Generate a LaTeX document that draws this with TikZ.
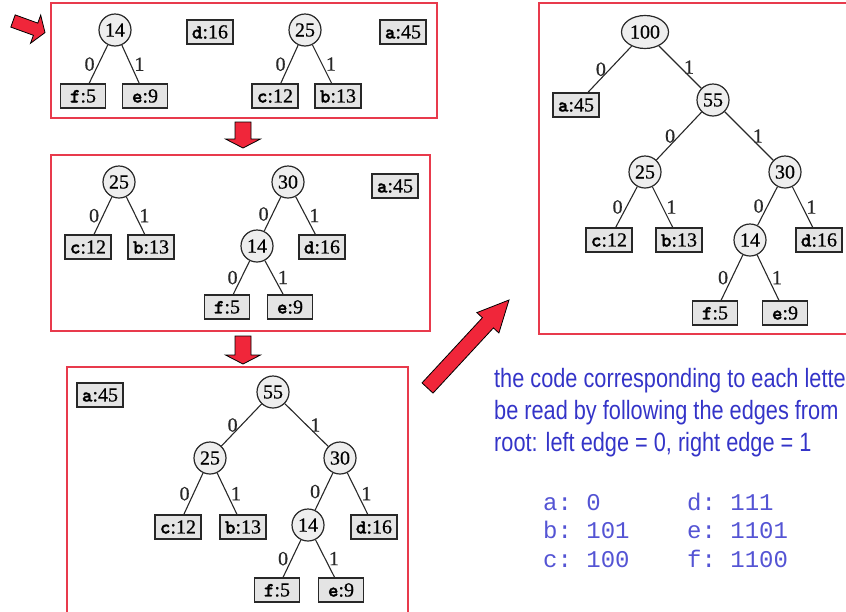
\documentclass[tikz,border=0pt]{standalone}
\usepackage{fontspec}
\setmainfont{Liberation Serif}
\newfontfamily\treeserif[FakeBold=0.6]{Liberation Serif}
\newfontfamily\notefont[FakeStretch=0.82]{Liberation Sans}
\newfontfamily\codefont{Liberation Mono}
\newfontfamily\letterfont[FakeBold=1.6]{lmmonolt10-bold.otf}
\usetikzlibrary{shapes.geometric}

\definecolor{framered}{RGB}{232,58,76}
\definecolor{arrowred}{RGB}{240,38,58}
\definecolor{noteblue}{RGB}{52,52,200}
\definecolor{codeblue}{RGB}{84,84,212}
\definecolor{nodefill}{RGB}{238,238,238}
\definecolor{leaffill}{RGB}{228,228,228}
\definecolor{inkgray}{RGB}{40,40,40}

% leaf label: bold typewriter letter, then its frequency
\newcommand\leaftxt[2]{{\letterfont #1}:#2}

\tikzset{
  treefont/.style={font=\treeserif\fontsize{20}{22}\selectfont},
  inner/.style={circle, draw=inkgray, fill=nodefill, line width=1.2pt,
    minimum size=32pt, inner sep=0pt, treefont},
  rootoval/.style={ellipse, draw=inkgray, fill=nodefill, line width=1.2pt,
    minimum width=47pt, minimum height=33pt, inner sep=0pt, treefont},
  leaf/.style={rectangle, draw=inkgray, fill=leaffill, line width=1.4pt,
    minimum width=45pt, minimum height=24pt, inner xsep=5pt, inner ysep=0pt, treefont},
  link/.style={draw=inkgray, line width=1.1pt},
  bit0/.style={midway, left, treefont, text=inkgray},
  bit1/.style={midway, right, treefont, text=inkgray},
  redframe/.style={draw=framered, line width=1.2pt},
  bigarrow/.style={fill=arrowred, draw=black, line width=0.8pt, line join=miter},
  note/.style={anchor=base west, text=noteblue, inner sep=0pt,
    font=\notefont\fontsize{26.5}{32}\selectfont},
  codeline/.style={anchor=base west, text=codeblue, inner sep=0pt,
    font=\codefont\fontsize{24}{28}\selectfont},
}

\begin{document}
\begin{tikzpicture}[x=1pt, y=-1pt]
\useasboundingbox (0,0) rectangle (846,611);
\clip (0,0) rectangle (846,611);

% ---------- frames ----------
\draw[redframe] (51,3) rectangle (437,118);
\draw[redframe] (51,155) rectangle (430,331);
\draw[redframe] (67,620) -- (67,367) -- (408,367) -- (408,620);
\draw[redframe] (852,3) -- (539,3) -- (539,334) -- (852,334);

% ---------- block arrows ----------
\draw[bigarrow] (15.2,14.9) -- (37.8,23.1) -- (40.7,15.1) -- (45,32.6)
  -- (30.5,43.3) -- (33.4,35.3) -- (10.8,27.1) -- cycle;
\draw[bigarrow] (235,122) -- (251,122) -- (251,139) -- (260.5,139)
  -- (243,148) -- (225.5,139) -- (235,139) -- cycle;
\draw[bigarrow] (235,336) -- (251,336) -- (251,355) -- (260.5,355)
  -- (243,364) -- (225.5,355) -- (235,355) -- cycle;
\draw[bigarrow] (422,382.9) -- (482.4,317.7) -- (476.9,312.6) -- (509,300)
  -- (498.9,333) -- (493.4,327.9) -- (433,393.1) -- cycle;

% ---------- step 1: forest of four trees ----------
\node[inner] (s1n14) at (115,30) {14};
\node[leaf] (s1f) at (83,96) {\leaftxt{f}{5}};
\node[leaf] (s1e) at (145,96) {\leaftxt{e}{9}};
\draw[link] (s1n14) -- node[bit0]{0} (s1f);
\draw[link] (s1n14) -- node[bit1]{1} (s1e);
\node[leaf] (s1d) at (210,32) {\leaftxt{d}{16}};
\node[inner] (s1n25) at (305,30) {25};
\node[leaf] (s1c) at (275,96) {\leaftxt{c}{12}};
\node[leaf] (s1b) at (338,96) {\leaftxt{b}{13}};
\draw[link] (s1n25) -- node[bit0]{0} (s1c);
\draw[link] (s1n25) -- node[bit1]{1} (s1b);
\node[leaf] (s1a) at (403,32) {\leaftxt{a}{45}};

% ---------- step 2 ----------
\node[inner] (s2n25) at (119,182) {25};
\node[leaf] (s2c) at (88,247) {\leaftxt{c}{12}};
\node[leaf] (s2b) at (151,247) {\leaftxt{b}{13}};
\draw[link] (s2n25) -- node[bit0]{0} (s2c);
\draw[link] (s2n25) -- node[bit1]{1} (s2b);
\node[inner] (s2n30) at (288,182) {30};
\node[inner] (s2n14) at (257,246) {14};
\node[leaf] (s2d) at (322,247) {\leaftxt{d}{16}};
\node[leaf] (s2f) at (227,307) {\leaftxt{f}{5}};
\node[leaf] (s2e) at (290,307) {\leaftxt{e}{9}};
\draw[link] (s2n30) -- node[bit0]{0} (s2n14);
\draw[link] (s2n30) -- node[bit1]{1} (s2d);
\draw[link] (s2n14) -- node[bit0]{0} (s2f);
\draw[link] (s2n14) -- node[bit1]{1} (s2e);
\node[leaf] (s2a) at (395,186) {\leaftxt{a}{45}};

% ---------- step 3 ----------
\node[leaf] (s3a) at (100,395) {\leaftxt{a}{45}};
\node[inner] (s3n55) at (273,392) {55};
\node[inner] (s3n25) at (210,458) {25};
\node[inner] (s3n30) at (340,458) {30};
\node[leaf] (s3c) at (178,527) {\leaftxt{c}{12}};
\node[leaf] (s3b) at (243,527) {\leaftxt{b}{13}};
\node[inner] (s3n14) at (308,525) {14};
\node[leaf] (s3d) at (374,527) {\leaftxt{d}{16}};
\node[leaf] (s3f) at (277,590) {\leaftxt{f}{5}};
\node[leaf] (s3e) at (341,590) {\leaftxt{e}{9}};
\draw[link] (s3n55) -- node[bit0]{0} (s3n25);
\draw[link] (s3n55) -- node[bit1]{1} (s3n30);
\draw[link] (s3n25) -- node[bit0]{0} (s3c);
\draw[link] (s3n25) -- node[bit1]{1} (s3b);
\draw[link] (s3n30) -- node[bit0]{0} (s3n14);
\draw[link] (s3n30) -- node[bit1]{1} (s3d);
\draw[link] (s3n14) -- node[bit0]{0} (s3f);
\draw[link] (s3n14) -- node[bit1]{1} (s3e);

% ---------- final tree ----------
\node[rootoval] (s4n100) at (645,32) {100};
\node[leaf] (s4a) at (576,105) {\leaftxt{a}{45}};
\node[inner] (s4n55) at (713,100) {55};
\node[inner] (s4n25) at (645,172) {25};
\node[inner] (s4n30) at (785,172) {30};
\node[leaf] (s4c) at (609,240) {\leaftxt{c}{12}};
\node[leaf] (s4b) at (679,240) {\leaftxt{b}{13}};
\node[inner] (s4n14) at (750,240) {14};
\node[leaf] (s4d) at (819,240) {\leaftxt{d}{16}};
\node[leaf] (s4f) at (715,313) {\leaftxt{f}{5}};
\node[leaf] (s4e) at (785,313) {\leaftxt{e}{9}};
\draw[link] (s4n100) -- node[bit0]{0} (s4a);
\draw[link] (s4n100) -- node[bit1]{1} (s4n55);
\draw[link] (s4n55) -- node[bit0]{0} (s4n25);
\draw[link] (s4n55) -- node[bit1]{1} (s4n30);
\draw[link] (s4n25) -- node[bit0]{0} (s4c);
\draw[link] (s4n25) -- node[bit1]{1} (s4b);
\draw[link] (s4n30) -- node[bit0]{0} (s4n14);
\draw[link] (s4n30) -- node[bit1]{1} (s4d);
\draw[link] (s4n14) -- node[bit0]{0} (s4f);
\draw[link] (s4n14) -- node[bit1]{1} (s4e);

% ---------- explanation ----------
\node[note] (t1) at (494,387) {the code corresponding to each lette};
\node[note] (t2) at (494,419) {be read by following the edges from};
\node[note] (t3) at (494,451) {root: left edge = 0, right edge = 1};

\node[codeline] (c1) at (543,510) {a:~0~~~~~~d:~111};
\node[codeline] (c2) at (543,538.5) {b:~101~~~~e:~1101};
\node[codeline] (c3) at (543,567) {c:~100~~~~f:~1100};
\end{tikzpicture}
\end{document}
